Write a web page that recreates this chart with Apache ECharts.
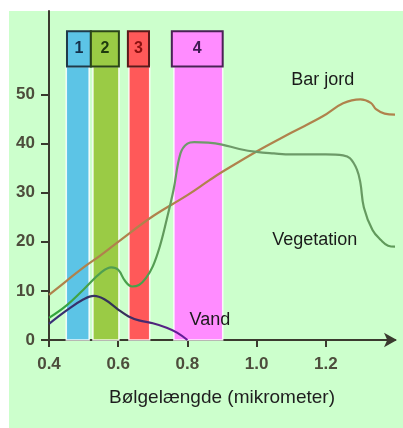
<!DOCTYPE html>
<html>
<head>
<meta charset="utf-8">
<script src="https://cdn.jsdelivr.net/npm/echarts@6/dist/echarts.min.js"></script>
<style>html,body{margin:0;padding:0;background:#fff}#c{width:403px;height:428px}</style>
</head>
<body>
<div id="c"></div>
<script>
// ---- data ----
const xTicks = [0.4, 0.6, 0.8, 1.0, 1.2];
const yTicks = [0, 10, 20, 30, 40, 50];
const xTitle = 'Bølgelængde (mikrometer)';

const soilWl  = [0.4, 0.45, 0.5, 0.55, 0.6, 0.7, 0.8, 0.865, 0.9, 1.0, 1.1, 1.19, 1.25, 1.3, 1.33, 1.345, 1.37, 1.4];
const soilRef = [9.2, 12, 14.8, 17.3, 20, 25.2, 29.5, 32.6, 34.2, 38.4, 42.2, 45.5, 48.2, 49, 48.3, 47, 46.1, 45.9];

const vegWl  = [0.4, 0.45, 0.5, 0.55, 0.58, 0.6, 0.62, 0.64, 0.66, 0.68, 0.7, 0.72, 0.74, 0.76, 0.78, 0.8, 0.82, 0.86, 0.9, 0.95, 1.0, 1.05, 1.1, 1.2, 1.25, 1.27, 1.29, 1.3, 1.31, 1.335, 1.36, 1.38, 1.4];
const vegRef = [4.5, 7, 10.3, 13.7, 14.8, 14.3, 12, 10.9, 11.2, 12.6, 15, 19, 24.5, 30.6, 38, 40, 40.3, 40.2, 39.8, 38.9, 38.3, 38, 37.8, 37.8, 37.6, 37, 34.7, 32, 27, 22.4, 20.3, 19.2, 19];

const waterWl  = [0.4, 0.45, 0.5, 0.53, 0.56, 0.6, 0.63, 0.66, 0.7, 0.74, 0.77, 0.8];
const waterRef = [3.3, 6, 8.3, 9, 8.3, 6.2, 4.8, 4, 3.4, 2.5, 1.5, 0];

const bandNames = ['1', '2', '3', '4'];
const bandFrom  = [0.45, 0.527, 0.631, 0.761];
const bandTo    = [0.516, 0.602, 0.691, 0.902];
const boxFrom   = [0.452, 0.521, 0.628, 0.755];
const boxTo     = [0.521, 0.602, 0.689, 0.902];
const bandTop   = 55.7;   // reflectance where the numbered boxes start
const boxTop    = 62.9;

const curveLabels = [
  {text: 'Bar jord',   x: 1.191, y: 53},
  {text: 'Vegetation', x: 1.168, y: 20.4},
  {text: 'Vand',       x: 0.865, y: 4.1}
];

// ---- styles ----
const bandColors = ['#5cc4e6', '#9acb45', '#ff5959', '#ff8cff'];
const boxBorder  = ['#1f3a4a', '#2a4418', '#5a1a1a', '#4a2156'];
const boxText    = ['#14304a', '#1e3a0e', '#8a1010', '#3e1a52'];
const FONT = 'Liberation Sans, Arial, sans-serif';

const pair = (xs, ys) => xs.map((x, i) => [x, ys[i]]);

const chart = echarts.init(document.getElementById('c'), null, {renderer: 'canvas'});

const bandAreas = bandNames.map((n, i) => [
  {xAxis: bandFrom[i], yAxis: 0, itemStyle: {color: bandColors[i], borderColor: 'rgba(255,255,255,0.85)', borderWidth: 1.5}},
  {xAxis: bandTo[i], yAxis: bandTop}
]);
const boxAreas = bandNames.map((n, i) => [
  {name: n, xAxis: boxFrom[i], yAxis: bandTop,
   itemStyle: {color: bandColors[i], borderColor: boxBorder[i], borderWidth: 2},
   label: {color: boxText[i]}},
  {xAxis: boxTo[i], yAxis: boxTop}
]);

const labelPoint = (l) => ({
  coord: [l.x, l.y], value: l.text, symbol: 'circle', symbolSize: 2,
  itemStyle: {color: 'rgba(0,0,0,0)'},
  label: {show: true, position: 'inside', formatter: l.text, color: '#1a1a1a',
          fontSize: 18, fontFamily: FONT}
});

chart.setOption({
  backgroundColor: '#fff',
  animation: false,
  graphic: [{
    type: 'rect', z: -10, left: 9, top: 11,
    shape: {width: 394, height: 417},
    style: {fill: '#ccffcc'}
  }],
  grid: {left: 49, right: 8, top: 11, bottom: 88},
  xAxis: {
    type: 'value', min: 0.4, max: 1.4,
    name: xTitle, nameLocation: 'middle', nameGap: 48,
    nameTextStyle: {color: '#1e1e1e', fontSize: 19, fontFamily: FONT},
    axisLine: {show: true, symbol: ['none', 'arrow'], symbolSize: [11, 13], symbolOffset: [0, 2],
               lineStyle: {color: '#3a3a2e', width: 2}},
    axisTick: {show: true, inside: false, length: 7, customValues: xTicks,
               lineStyle: {color: '#3a3a2e', width: 2}},
    axisLabel: {customValues: xTicks, margin: 16, color: '#4d4d3c', fontSize: 17, fontWeight: 'bold',
                fontFamily: FONT, formatter: v => v.toFixed(1)},
    splitLine: {show: false}
  },
  yAxis: {
    type: 'value', min: 0, max: 67,
    axisLine: {show: true, lineStyle: {color: '#3a3a2e', width: 2}},
    axisTick: {show: true, length: 8, customValues: yTicks, lineStyle: {color: '#3a3a2e', width: 2}},
    axisLabel: {customValues: yTicks, margin: 14, color: '#4d4d3c', fontSize: 17, fontWeight: 'bold',
                fontFamily: FONT},
    splitLine: {show: false}
  },
  series: [
    {
      name: 'bands', type: 'line', data: [], z: 1, silent: true,
      markArea: {silent: true, data: bandAreas, label: {show: false}},
    },
    {
      name: 'boxes', type: 'line', data: [], z: 1, silent: true,
      markArea: {silent: true, data: boxAreas,
        label: {show: true, position: 'inside', fontSize: 16, fontWeight: 'bold', fontFamily: FONT}}
    },
    {
      name: 'Bar jord', type: 'line', z: 3, smooth: 0.4, showSymbol: false,
      data: pair(soilWl, soilRef),
      lineStyle: {color: '#b0824c', width: 2.2},
      markPoint: {silent: true, data: [labelPoint(curveLabels[0])]}
    },
    {
      name: 'Vegetation', type: 'line', z: 3, smooth: 0.4, showSymbol: false,
      data: pair(vegWl, vegRef),
      lineStyle: {width: 2.2, color: new echarts.graphic.LinearGradient(0, 0, 0, 1, [
        {offset: 0, color: '#6f9a6a'}, {offset: 0.6, color: '#5f9a5a'}, {offset: 1, color: '#2fa83a'}])},
      markPoint: {silent: true, data: [labelPoint(curveLabels[1])]}
    },
    {
      name: 'Vand', type: 'line', z: 3, smooth: 0.4, showSymbol: false,
      data: pair(waterWl, waterRef),
      lineStyle: {width: 2.2, color: new echarts.graphic.LinearGradient(0, 0, 1, 0, [
        {offset: 0, color: '#3a2f7a'}, {offset: 0.5, color: '#333355'}, {offset: 1, color: '#6a1aa0'}])},
      markPoint: {silent: true, data: [labelPoint(curveLabels[2])]}
    }
  ]
});
</script>
</body>
</html>
